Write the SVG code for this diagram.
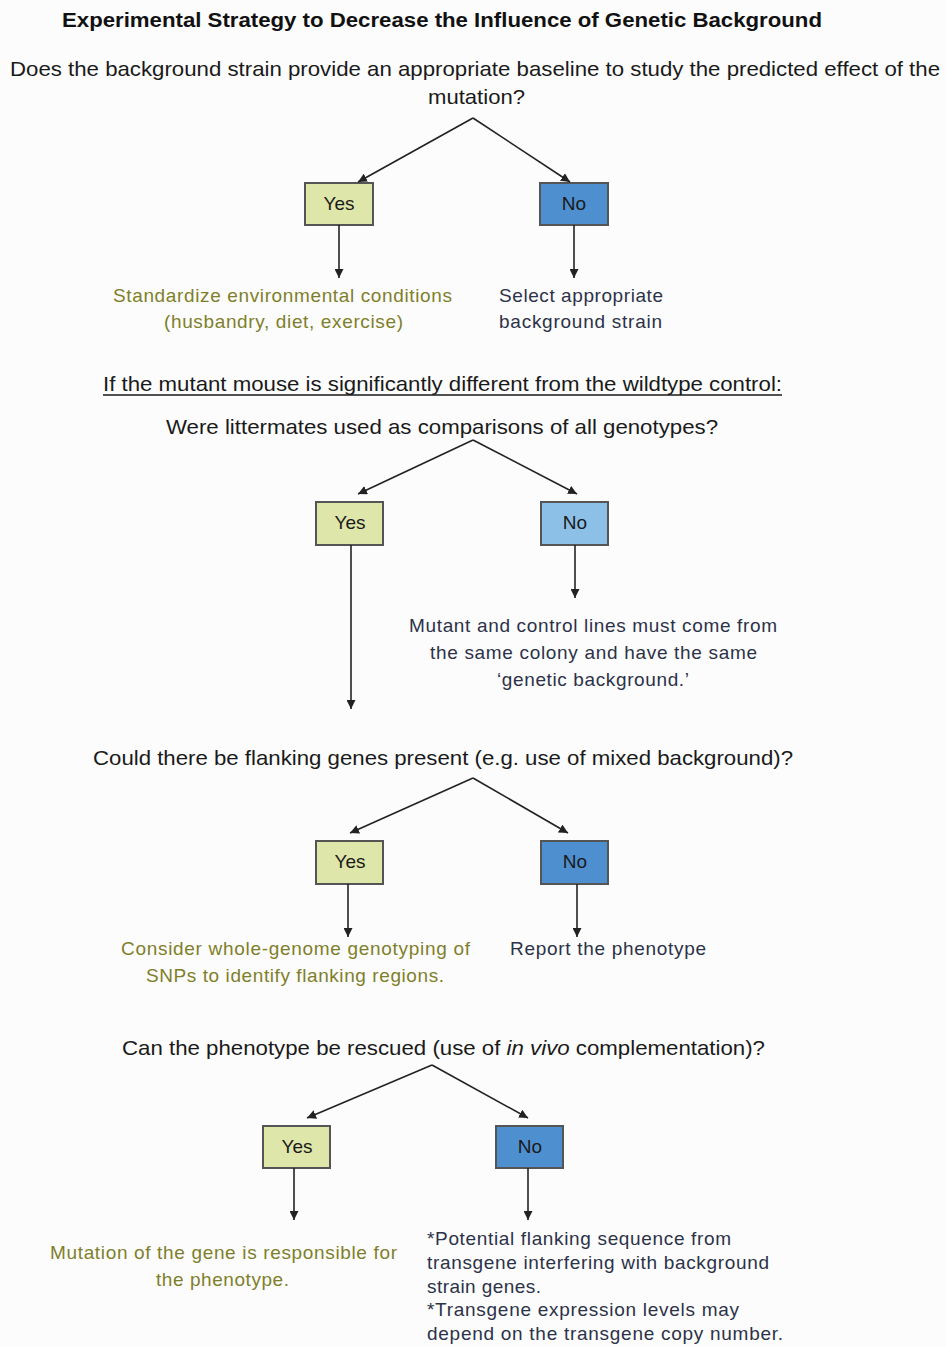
<svg xmlns="http://www.w3.org/2000/svg" width="946" height="1347" viewBox="0 0 946 1347">
<defs>
<marker id="ah" viewBox="0 0 10 10" refX="10" refY="5" markerWidth="9" markerHeight="9" markerUnits="userSpaceOnUse" orient="auto"><path d="M0,0 L10,5 L0,10 z" fill="#222"/></marker>
<style>
.q{font-family:"Liberation Sans",Arial,sans-serif;font-size:21px;fill:#1a1a1a}
.t{font-family:"Liberation Sans",Arial,sans-serif;font-size:19px}
.ol{fill:#7f7f2a}
.nv{fill:#2c3248}
.yes{fill:#dfe6a9;stroke:#555;stroke-width:2}
.no{fill:#4d8fcf;stroke:#555;stroke-width:2}
.no2{fill:#8cc0e7;stroke:#555;stroke-width:2}
.bl{font-family:"Liberation Sans",Arial,sans-serif;font-size:19px;fill:#1a1a1a;text-anchor:middle}
.c line{stroke:#222;stroke-width:1.6;marker-end:url(#ah)}
</style>
</defs>
<rect width="946" height="1347" fill="#fcfcfc"/>
<text x="62" y="27" font-family="Liberation Sans,Arial,sans-serif" font-size="20" font-weight="bold" fill="#111" textLength="760" lengthAdjust="spacingAndGlyphs">Experimental Strategy to Decrease the Influence of Genetic Background</text>
<g id="q1">
<text class="q" x="10" y="76" textLength="930" lengthAdjust="spacingAndGlyphs">Does the background strain provide an appropriate baseline to study the predicted effect of the</text>
<text class="q" x="428" y="104" textLength="97" lengthAdjust="spacingAndGlyphs">mutation?</text>
</g>
<g id="yes1"><rect class="yes" x="305" y="183" width="68" height="42"/><text class="bl" x="339" y="210">Yes</text></g>
<g id="no1"><rect class="no" x="540" y="183" width="68" height="42"/><text class="bl" x="574" y="210">No</text></g>
<g id="r1y"><text class="t ol" x="113" y="302" textLength="339">Standardize environmental conditions</text><text class="t ol" x="164" y="328" textLength="239">(husbandry, diet, exercise)</text></g>
<g id="r1n"><text class="t nv" x="499" y="302" textLength="164">Select appropriate</text><text class="t nv" x="499" y="328" textLength="163">background strain</text></g>
<g id="cond"><text class="q" x="103" y="391" textLength="679" lengthAdjust="spacingAndGlyphs">If the mutant mouse is significantly different from the wildtype control:</text><line x1="103" y1="395" x2="782" y2="395" stroke="#1a1a1a" stroke-width="1.5"/></g>
<g id="q2"><text class="q" x="166" y="434" textLength="552" lengthAdjust="spacingAndGlyphs">Were littermates used as comparisons of all genotypes?</text></g>
<g id="yes2"><rect class="yes" x="316" y="502" width="67" height="43"/><text class="bl" x="350" y="529">Yes</text></g>
<g id="no2"><rect class="no2" x="541" y="502" width="67" height="43"/><text class="bl" x="575" y="529">No</text></g>
<g id="r2n"><text class="t nv" x="409" y="632" textLength="368">Mutant and control lines must come from</text><text class="t nv" x="430" y="659" textLength="327">the same colony and have the same</text><text class="t nv" x="497" y="686" textLength="192">‘genetic background.’</text></g>
<g id="q3"><text class="q" x="93" y="765" textLength="700" lengthAdjust="spacingAndGlyphs">Could there be flanking genes present (e.g. use of mixed background)?</text></g>
<g id="yes3"><rect class="yes" x="316" y="841" width="67" height="43"/><text class="bl" x="350" y="868">Yes</text></g>
<g id="no3"><rect class="no" x="541" y="841" width="67" height="43"/><text class="bl" x="575" y="868">No</text></g>
<g id="r3y"><text class="t ol" x="121" y="955" textLength="349">Consider whole-genome genotyping of</text><text class="t ol" x="146" y="982" textLength="298">SNPs to identify flanking regions.</text></g>
<g id="r3n"><text class="t nv" x="510" y="955" textLength="196">Report the phenotype</text></g>
<g id="q4"><text class="q" x="122" y="1055" textLength="643" lengthAdjust="spacingAndGlyphs">Can the phenotype be rescued (use of <tspan font-style="italic">in vivo</tspan> complementation)?</text></g>
<g id="yes4"><rect class="yes" x="263" y="1126" width="67" height="42"/><text class="bl" x="297" y="1153">Yes</text></g>
<g id="no4"><rect class="no" x="496" y="1126" width="67" height="42"/><text class="bl" x="530" y="1153">No</text></g>
<g id="r4y"><text class="t ol" x="50" y="1259" textLength="347">Mutation of the gene is responsible for</text><text class="t ol" x="156" y="1286" textLength="133">the phenotype.</text></g>
<g id="r4n" class="t nv"><text x="427" y="1245" textLength="304">*Potential flanking sequence from</text><text x="427" y="1269" textLength="342">transgene interfering with background</text><text x="427" y="1293" textLength="114">strain genes.</text><text x="427" y="1316" textLength="312">*Transgene expression levels may</text><text x="427" y="1340" textLength="356">depend on the transgene copy number.</text></g>
<g class="c" id="connectors">
<line x1="473" y1="118" x2="358" y2="182"/>
<line x1="473" y1="118" x2="570" y2="182"/>
<line x1="339" y1="225" x2="339" y2="278"/>
<line x1="574" y1="225" x2="574" y2="278"/>
<line x1="473" y1="440" x2="358" y2="494"/>
<line x1="473" y1="440" x2="577" y2="494"/>
<line x1="351" y1="545" x2="351" y2="709"/>
<line x1="575" y1="545" x2="575" y2="598"/>
<line x1="473" y1="778" x2="350" y2="833"/>
<line x1="473" y1="778" x2="568" y2="833"/>
<line x1="348" y1="884" x2="348" y2="937"/>
<line x1="577" y1="884" x2="577" y2="937"/>
<line x1="432" y1="1065" x2="307" y2="1118"/>
<line x1="432" y1="1065" x2="528" y2="1118"/>
<line x1="294" y1="1168" x2="294" y2="1220"/>
<line x1="528" y1="1168" x2="528" y2="1220"/>
</g>
</svg>
